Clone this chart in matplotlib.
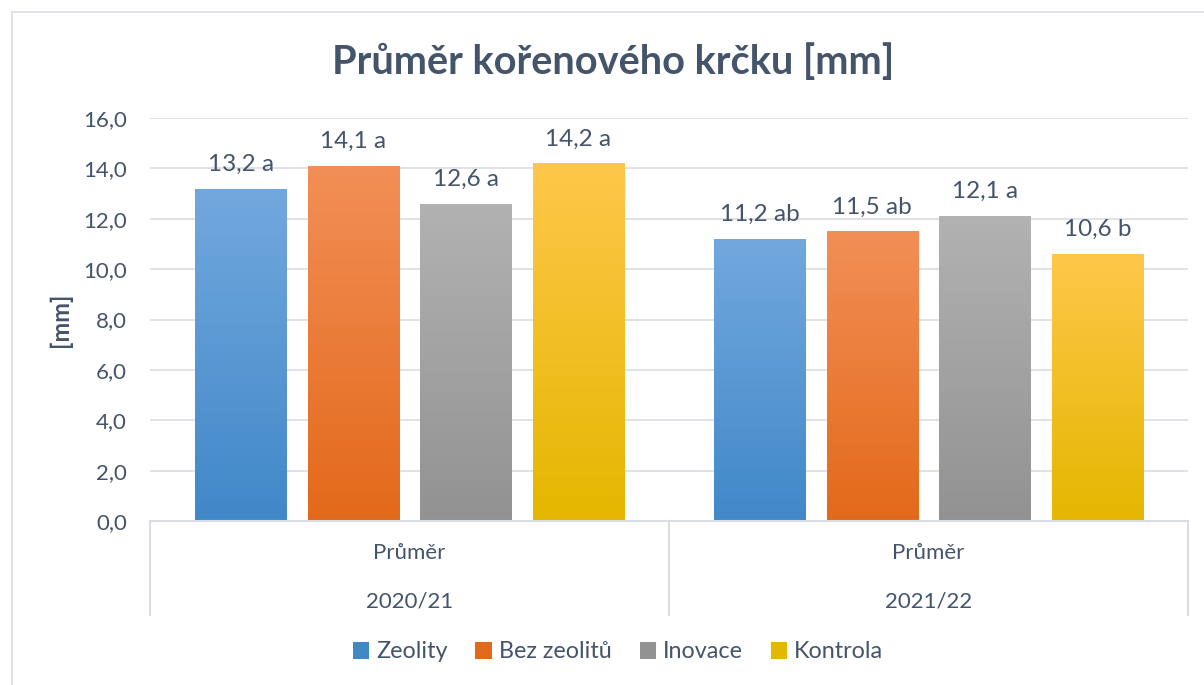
import matplotlib
matplotlib.use("Agg")
import matplotlib.pyplot as plt
import matplotlib.transforms as mtransforms
from matplotlib.colors import LinearSegmentedColormap
from matplotlib.lines import Line2D
from matplotlib.patches import Patch
import numpy as np

plt.rcParams["font.family"] = ["Lato", "DejaVu Sans"]

seasons = ["2020/21", "2021/22"]
group_label = "Průměr"
series = ["Zeolity", "Bez zeolitů", "Inovace", "Kontrola"]
values = {
    "Zeolity": [13.2, 11.2],
    "Bez zeolitů": [14.1, 11.5],
    "Inovace": [12.6, 12.1],
    "Kontrola": [14.2, 10.6],
}
letters = {
    "Zeolity": ["a", "ab"],
    "Bez zeolitů": ["a", "ab"],
    "Inovace": ["a", "a"],
    "Kontrola": ["a", "b"],
}

# (top, bottom) gradient colours, Office style
colors = {
    "Zeolity": ("#72a8de", "#4188c8"),
    "Bez zeolitů": ("#f28f57", "#e3691a"),
    "Inovace": ("#b2b2b2", "#929292"),
    "Kontrola": ("#ffc74a", "#e4b700"),
}
TEXT = "#44546a"
GRID = "#d9dde3"

W, H = 1204, 685
fig = plt.figure(figsize=(W / 100, H / 100), dpi=100, facecolor="white")
ax = fig.add_axes([150 / W, 1 - 521 / H, (1188 - 150) / W, (521 - 118) / H])

bar_w = 0.176
step = 0.217
centers = np.array([0.5, 1.5])
grad = np.linspace(0, 1, 256).reshape(-1, 1)

for i, name in enumerate(series):
    xs = centers + (i - 1.5) * step
    bars = ax.bar(xs, values[name], width=bar_w, color=colors[name][1], zorder=3)
    cmap = LinearSegmentedColormap.from_list(name, [colors[name][1], colors[name][0]])
    for bar, v, lt in zip(bars, values[name], letters[name]):
        x0 = bar.get_x()
        im = ax.imshow(grad, cmap=cmap, aspect="auto", origin="lower",
                       extent=[x0, x0 + bar_w, 0, v], zorder=4)
        im.set_clip_path(bar)
        ax.annotate(f"{v:.1f}".replace(".", ",") + f" {lt}",
                    (bar.get_x() + bar_w / 2, v), xytext=(0, 10),
                    textcoords="offset points", ha="center", va="bottom",
                    fontsize=17.5, color=TEXT)

ax.set_xlim(0, 2)
ax.set_ylim(0, 16)
ax.set_yticks(np.arange(0, 17, 2))
ax.set_yticklabels([f"{t:.1f}".replace(".", ",") for t in np.arange(0, 17, 2)])
ax.tick_params(axis="y", length=0, pad=16.5, labelsize=16, labelcolor=TEXT)
ax.set_xticks([])
for s in ax.spines.values():
    s.set_visible(False)
ax.grid(axis="y", color=GRID, lw=1.2, zorder=0)
ax.set_axisbelow(True)
ax.set_ylabel("[mm]", fontsize=17, fontweight="bold", color=TEXT, labelpad=8)

# multi-level category axis
trans = mtransforms.blended_transform_factory(ax.transData, ax.transAxes)
drop = (615 - 521) / (521 - 118)
ax.plot([0, 2], [0, 0], transform=trans, color=GRID, lw=1.5, clip_on=False, zorder=5)
for xv in [0, 1, 2]:
    ax.plot([xv, xv], [0, -drop], transform=trans, color=GRID, lw=1.5, clip_on=False)
for c, season in zip(centers, seasons):
    ax.text(c, -(553 - 521) / 403, group_label, transform=trans, ha="center",
            va="center", fontsize=16, color=TEXT)
    ax.text(c, -(601 - 521) / 403, season, transform=trans, ha="center",
            va="center", fontsize=16, color=TEXT)

fig.text(613 / W, 1 - 62 / H, "Průměr kořenového krčku [mm]", ha="center",
         va="center", fontsize=28.6, fontweight="bold", color=TEXT)

handles = [Patch(facecolor=colors[n][1], edgecolor="none") for n in series]
fig.legend(handles, series, loc="center", bbox_to_anchor=(618 / W, 1 - 652 / H),
           ncol=4, frameon=False, fontsize=16.8, handlelength=0.7,
           handleheight=0.7, handletextpad=0.3, columnspacing=1.2,
           labelcolor=TEXT)

# chart area border (top and left visible)
fig.add_artist(Line2D([12 / W, 1], [1 - 12 / H, 1 - 12 / H], color=GRID, lw=1.2))
fig.add_artist(Line2D([12 / W, 12 / W], [0, 1 - 12 / H], color=GRID, lw=1.2))

fig.savefig("out.png", dpi=100, facecolor="white")
